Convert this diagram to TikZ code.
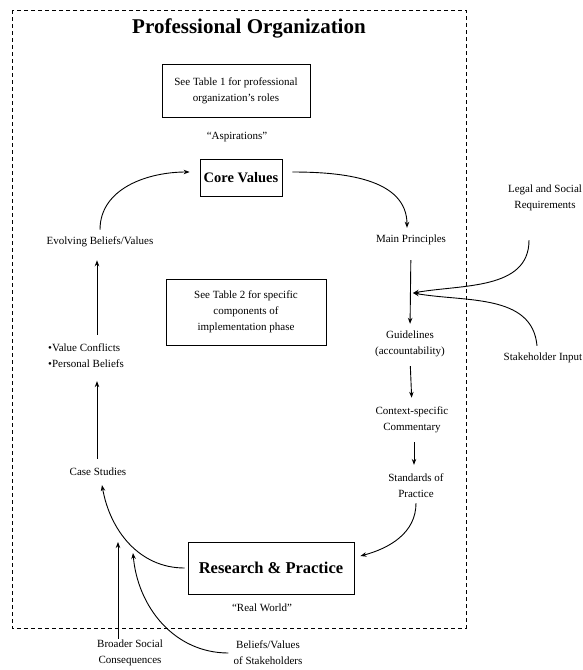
\documentclass[tikz,border=0pt]{standalone}
\usepackage{fontspec}
\setmainfont{Liberation Serif}
\usetikzlibrary{arrows.meta,positioning}

\begin{document}
\begin{tikzpicture}[
    x=1pt, y=1pt,
    box/.style={draw, line width=0.8pt, align=center, font=\fontsize{11}{16}\selectfont},
    txt/.style={align=center, inner sep=1pt, font=\fontsize{11}{16}\selectfont},
    link/.style={-{Stealth[length=6pt,width=4.5pt]}, line width=0.9pt},
    frame/.style={draw, line width=0.9pt, dash pattern=on 4pt off 3pt}
]
\useasboundingbox (0,0) rectangle (582,-670);
\draw[frame] (12,-10) rectangle (466,-628);

\node[font=\bfseries\fontsize{21}{24}\selectfont] (title) at (249,-28) {Professional Organization};
\node[box, minimum width=148pt, minimum height=53pt] (tab1) at (236,-91) {See Table 1 for professional\\organization's roles};
\node[txt] (aspire) at (237,-137) {``Aspirations''};
\node[box, font=\bfseries\fontsize{14.5}{16}\selectfont, minimum width=82pt, minimum height=37pt] (core) at (241,-178) {Core Values};
\node[txt] (evolve) at (100,-242) {Evolving Beliefs/Values};
\node[txt] (mainp) at (411,-240) {Main Principles};
\node[txt] (legal) at (545,-198) {Legal and Social\\Requirements};
\node[txt, align=left] (conflict) at (86,-356) {\textbullet Value Conflicts\\\textbullet Personal Beliefs};
\node[box, minimum width=160pt, minimum height=66pt] (tab2) at (246,-312) {See Table 2 for specific\\components of\\implementation phase};
\node[txt] (guide) at (410,-344) {Guidelines\\(accountability)};
\node[txt] (stake) at (543,-358) {Stakeholder Input};
\node[txt] (context) at (412,-420) {Context-specific\\Commentary};
\node[txt] (case) at (98,-472) {Case Studies};
\node[txt] (stand) at (416,-486) {Standards of\\Practice};
\node[box, font=\bfseries\fontsize{16.5}{18}\selectfont, minimum width=166pt, minimum height=52pt] (research) at (271,-568) {Research \& Practice};
\node[txt] (real) at (262,-608) {``Real World''};
\node[txt] (broad) at (130,-653) {Broader Social\\Consequences};
\node[txt] (stakebel) at (268,-653) {Beliefs/Values\\of Stakeholders};
\coordinate (join) at (413,-293);
\coordinate (hit1) at (118,-542);
\coordinate (hit2) at (133,-553);

% outer cycle
\draw[link] ([yshift=6pt]evolve.north) to[out=90,in=180] ([xshift=-10pt,yshift=6pt]core.west);
\draw[link] ([xshift=10pt,yshift=6pt]core.east) to[out=0,in=90] ([xshift=-4pt,yshift=6pt]mainp.north);
\draw[link, shorten <=8pt, shorten >=12pt] (case.north -| 97,0) -- (conflict.south -| 97,0);
\draw[link, shorten <=8pt, shorten >=12pt] (conflict.north -| 97,0) -- (evolve.south -| 97,0);
\draw[link] ([xshift=-3pt]research.west) to[out=180,in=-80] ([xshift=4pt,yshift=-8pt]case.south);
\draw[link, shorten <=14pt, shorten >=6pt] (mainp.south) -- (guide.north);
\draw[link, shorten <=8pt, shorten >=8pt] (guide.south) -- (context.north);
\draw[link, shorten <=8pt, shorten >=8pt] (context.south -| 414,0) -- (stand.north -| 414,0);
\draw[link] ([yshift=-4pt]stand.south) to[out=-90,in=15] ([xshift=6pt,yshift=12pt]research.east);

% outside inputs
\draw[link] ([xshift=-16pt,yshift=-28pt]legal.south) to[out=-90,in=10] (join);
\draw[link] ([xshift=-6pt,yshift=6pt]stake.north) to[out=95,in=-10] (join);
\draw[link] (broad.north -| hit1) -- (hit1);
\draw[link] ([xshift=-4pt]stakebel.west) to[out=180,in=-85] (hit2);
\end{tikzpicture}
\end{document}
